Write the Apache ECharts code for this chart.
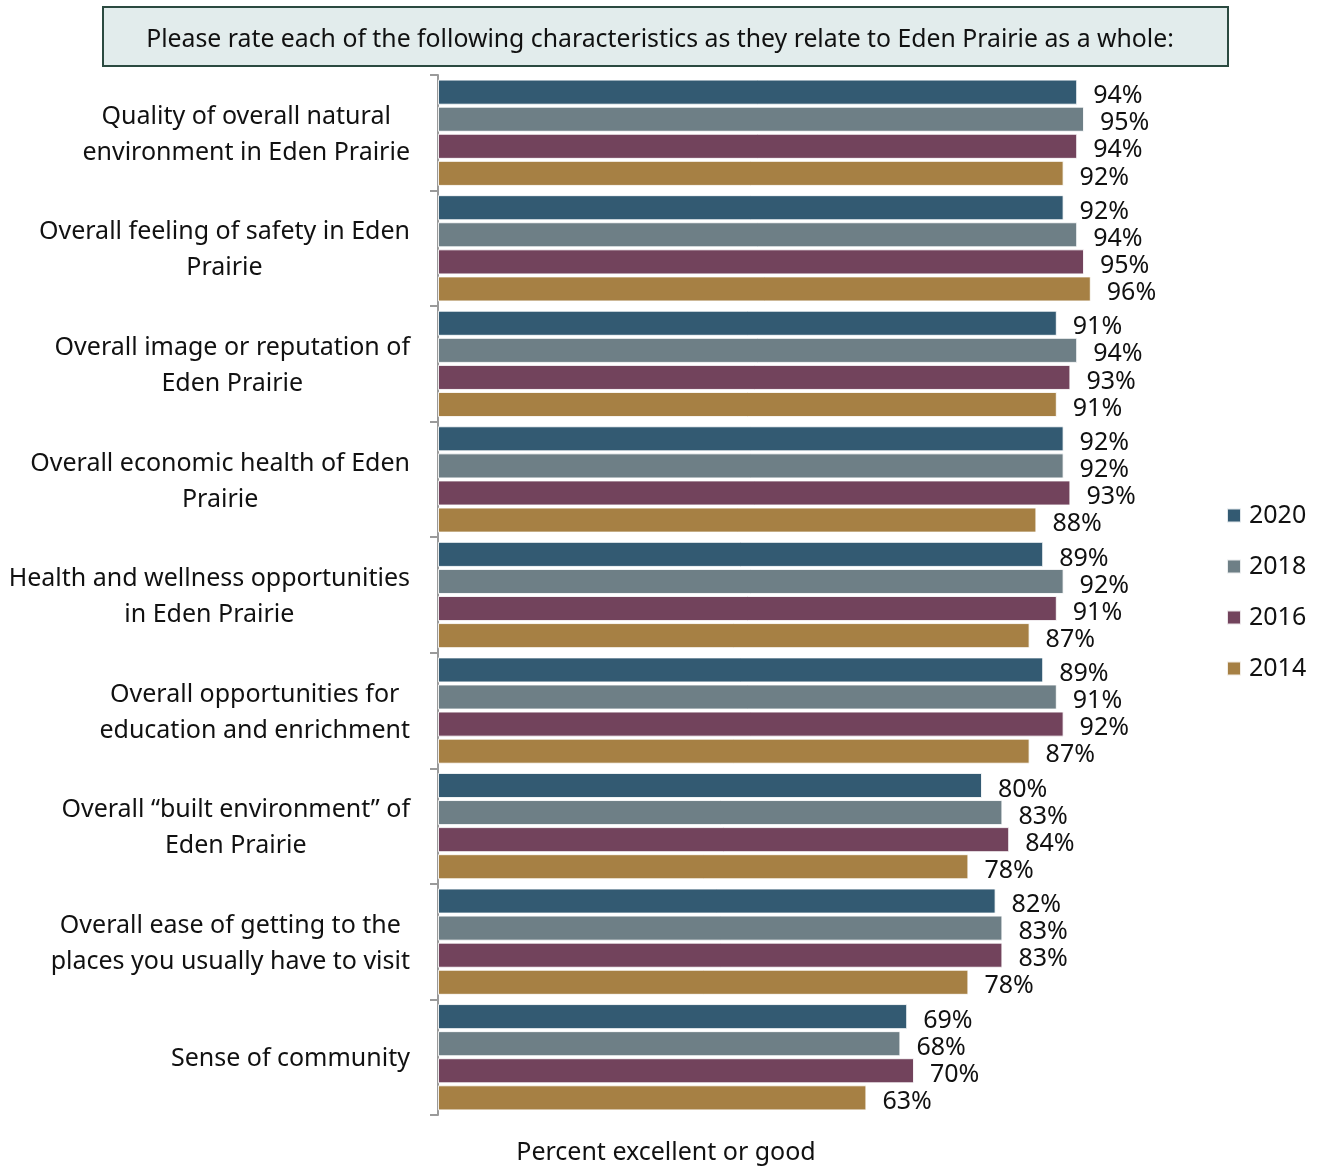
<!DOCTYPE html>
<html>
<head>
<meta charset="utf-8">
<script src="https://cdn.jsdelivr.net/npm/echarts@6/dist/echarts.min.js"></script>
<style>
  html, body { margin: 0; padding: 0; background: #fff; }
  #chart { width: 1320px; height: 1167px; }
</style>
</head>
<body>
<div id="chart"></div>
<script>
const categories = [
  'Quality of overall natural\nenvironment in Eden Prairie',
  'Overall feeling of safety in Eden\nPrairie',
  'Overall image or reputation of\nEden Prairie',
  'Overall economic health of Eden\nPrairie',
  'Health and wellness opportunities\nin Eden Prairie',
  'Overall opportunities for\neducation and enrichment',
  'Overall \u201cbuilt environment\u201d of\nEden Prairie',
  'Overall ease of getting to the\nplaces you usually have to visit',
  'Sense of community'
];
const years = ['2020', '2018', '2016', '2014'];
const values2020 = [94, 92, 91, 92, 89, 89, 80, 82, 69];
const values2018 = [95, 94, 94, 92, 92, 91, 83, 83, 68];
const values2016 = [94, 95, 93, 93, 91, 92, 84, 83, 70];
const values2014 = [92, 96, 91, 88, 87, 87, 78, 78, 63];
const colors = ['#335a72', '#6e7f86', '#72435c', '#a68044'];
const questionText = 'Please rate each of the following characteristics as they relate to Eden Prairie as a whole:';
const axisTitle = 'Percent excellent or good';

const FONT = '"Noto Sans", "Open Sans", sans-serif';
const seriesValues = [values2020, values2018, values2016, values2014];

const chart = echarts.init(document.getElementById('chart'), null, { renderer: 'canvas' });

chart.setOption({
  animation: false,
  textStyle: { fontFamily: FONT },
  title: {
    text: questionText,
    left: 'center',
    top: 22,
    padding: 0,
    textStyle: { fontFamily: FONT, fontSize: 24.8, fontWeight: 'normal', color: '#111', lineHeight: 36 }
  },
  graphic: [
    {
      type: 'rect', z: -1, silent: true,
      shape: { x: 103, y: 7, width: 1125, height: 59 },
      style: { fill: '#e2ecec', stroke: '#2b4a40', lineWidth: 2 }
    },
    {
      type: 'text', silent: true,
      x: 666, y: 1153,
      style: {
        text: axisTitle, fill: '#111', font: '25px ' + FONT,
        align: 'center', verticalAlign: 'middle'
      }
    }
  ],
  legend: {
    orient: 'vertical',
    left: 1221,
    top: 498,
    itemWidth: 14,
    itemHeight: 14,
    itemGap: 26,
    icon: 'rect',
    data: years,
    textStyle: { fontFamily: FONT, fontSize: 25, color: '#111', lineHeight: 24, padding: [0, 0, 0, 3] }
  },
  grid: { left: 438, right: 202, top: 75, bottom: 52, containLabel: false },
  xAxis: {
    type: 'value',
    min: 0,
    max: 100,
    show: false
  },
  yAxis: {
    type: 'category',
    inverse: true,
    data: categories,
    axisLine: { show: true, lineStyle: { color: '#9a9a9a', width: 2 } },
    axisTick: { show: true, length: 8, lineStyle: { color: '#9a9a9a', width: 2 } },
    axisLabel: {
      margin: 28,
      color: '#111',
      fontFamily: FONT,
      fontSize: 25,
      lineHeight: 36,
      padding: [4, 0, 0, 0],
      formatter: function (v) {
        return v.split('\n').map(function (l) { return '{c|' + l + '}'; }).join('\n');
      },
      rich: { c: { align: 'center', fontFamily: FONT, fontSize: 25, lineHeight: 36, color: '#111' } }
    }
  },
  series: years.map(function (y, i) {
    return {
      name: y,
      type: 'bar',
      data: seriesValues[i],
      barGap: '8%',
      barCategoryGap: '8%',
      itemStyle: { color: colors[i], borderColor: 'rgba(255,255,255,0.85)', borderWidth: 1 },
      label: {
        show: true,
        position: 'right',
        distance: 16,
        offset: [0, 4],
        formatter: '{c}%',
        fontFamily: FONT,
        fontSize: 25,
        color: '#111'
      }
    };
  })
});
</script>
</body>
</html>
